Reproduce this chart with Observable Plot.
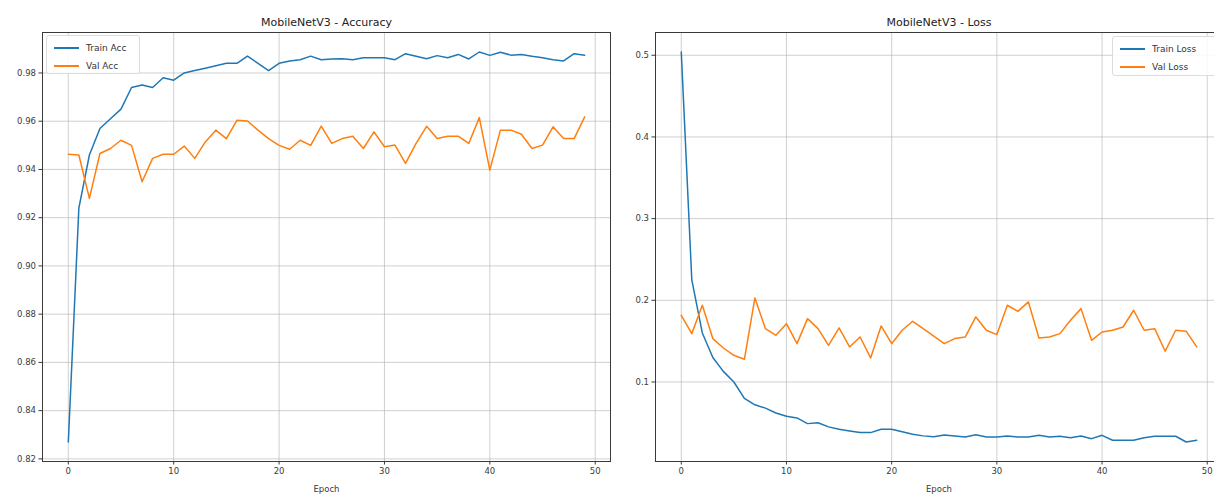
<!DOCTYPE html>
<html>
<head>
<meta charset="utf-8">
<script src="https://cdn.jsdelivr.net/npm/d3@7"></script>
<script src="https://cdn.jsdelivr.net/npm/@observablehq/plot@0.6"></script>
<style>
  html, body { margin: 0; padding: 0; background: #fff; }
  #wrap { position: relative; width: 1214px; height: 496px; overflow: hidden; background: #fff; font-family: "DejaVu Sans", sans-serif; }
  .panel { position: absolute; top: 0; }
  .legend { position: absolute; background: rgba(255,255,255,0.85); border: 1px solid #dcdcdc; border-radius: 3px; box-sizing: border-box; }
  .entry { position: absolute; font-size: 9px; color: #333; white-space: nowrap; line-height: 10px; }
  .swatch { position: absolute; height: 1.6px; }
</style>
</head>
<body>
<div id="wrap"></div>
<script>
// ---- data ----
const epochs = [0,1,2,3,4,5,6,7,8,9,10,11,12,13,14,15,16,17,18,19,20,21,22,23,24,25,26,27,28,29,30,31,32,33,34,35,36,37,38,39,40,41,42,43,44,45,46,47,48,49];

const trainAcc = [0.827,0.924,0.946,0.957,0.961,0.965,0.974,0.975,0.974,0.978,
                  0.977,0.980,0.981,0.982,0.983,0.984,0.984,0.987,0.984,0.981,
                  0.984,0.985,0.9855,0.987,0.9855,0.9858,0.9859,0.9855,0.9863,0.9863,
                  0.9863,0.9855,0.988,0.9869,0.9859,0.9872,0.9863,0.9877,0.9858,0.9887,
                  0.9873,0.9886,0.9874,0.9877,0.9869,0.9863,0.9855,0.985,0.988,0.9874];

const valAcc = [0.9463,0.946,0.928,0.9466,0.9487,0.9521,0.950,0.9349,0.9446,0.9463,
                0.9463,0.9497,0.9446,0.9514,0.9563,0.9528,0.9604,0.9601,0.9563,0.9528,
                0.950,0.9484,0.9521,0.950,0.958,0.9508,0.9528,0.9538,0.9487,0.9556,
                0.9494,0.9501,0.9425,0.9508,0.9579,0.9528,0.9538,0.9538,0.9508,0.9615,
                0.9397,0.9563,0.9563,0.9546,0.9487,0.9501,0.9577,0.9528,0.9528,0.9618];

const trainLoss = [0.504,0.225,0.160,0.130,0.113,0.100,0.080,0.072,0.068,0.062,
                   0.058,0.056,0.049,0.050,0.045,0.042,0.040,0.038,0.038,0.042,
                   0.042,0.039,0.036,0.034,0.033,0.035,0.0339,0.0327,0.0355,0.0327,
                   0.0327,0.0339,0.0327,0.0327,0.0347,0.0327,0.0335,0.0318,0.0339,0.0306,
                   0.0347,0.0286,0.0286,0.0286,0.0318,0.0335,0.0335,0.0335,0.0265,0.0286];

const valLoss = [0.1816,0.1592,0.1939,0.1531,0.1416,0.1327,0.1278,0.2029,0.1653,0.1571,
                 0.1714,0.1469,0.1776,0.1653,0.1449,0.1661,0.1429,0.1551,0.1294,0.1686,
                 0.1469,0.1633,0.1743,0.1653,0.156,0.1469,0.1531,0.1551,0.1796,0.1633,
                 0.158,0.1939,0.1865,0.198,0.1539,0.1551,0.1592,0.1755,0.1898,0.151,
                 0.1612,0.1633,0.1673,0.1878,0.1633,0.1653,0.1376,0.1633,0.162,0.1429];

const xTicks = [0,10,20,30,40,50];
const accTicks = [0.82,0.84,0.86,0.88,0.90,0.92,0.94,0.96,0.98];
const lossTicks = [0.1,0.2,0.3,0.4,0.5];

const titles = ["MobileNetV3 - Accuracy", "MobileNetV3 - Loss"];
const accLabels = ["Train Acc", "Val Acc"];
const lossLabels = ["Train Loss", "Val Loss"];
const colors = ["#1f77b4", "#ff7f0e"];

// ---- helpers ----
function padDomain(arrs) {
  const all = arrs.flat();
  const lo = d3.min(all), hi = d3.max(all), m = (hi - lo) * 0.05;
  return [lo - m, hi + m];
}

function panel({train, val, yTicks, yFormat, title, width, marginLeft}) {
  const rowsT = epochs.map((e, i) => ({epoch: e, v: train[i]}));
  const rowsV = epochs.map((e, i) => ({epoch: e, v: val[i]}));
  return Plot.plot({
    width, height: 496,
    marginLeft, marginRight: 2, marginTop: 32, marginBottom: 35,
    style: {fontFamily: "DejaVu Sans, sans-serif", fontSize: "8.5px", color: "#3a3a3a", background: "transparent", overflow: "visible"},
    x: {domain: [-2.45, 51.45], ticks: xTicks, tickFormat: d => d, tickSize: 3.5, tickPadding: 3,
        label: "Epoch", labelAnchor: "center", labelArrow: "none", labelOffset: 30},
    y: {domain: padDomain([train, val]), ticks: yTicks, tickFormat: yFormat, tickSize: 3.5, tickPadding: 3, label: null},
    marks: [
      Plot.gridX(xTicks, {stroke: "#b0b0b0", strokeOpacity: 0.6, strokeWidth: 1}),
      Plot.gridY(yTicks, {stroke: "#b0b0b0", strokeOpacity: 0.6, strokeWidth: 1}),
      Plot.line(rowsT, {x: "epoch", y: "v", stroke: colors[0], strokeWidth: 1.5}),
      Plot.line(rowsV, {x: "epoch", y: "v", stroke: colors[1], strokeWidth: 1.5}),
      Plot.frame({stroke: "#3a3a3a", strokeWidth: 1}),
      Plot.text([title], {frameAnchor: "top", dy: -14, fontSize: 11, fill: "#222"})
    ]
  });
}

function legend(parent, {left, top, width, height, labels}) {
  const box = document.createElement("div");
  box.className = "legend";
  Object.assign(box.style, {left: left + "px", top: top + "px", width: width + "px", height: height + "px"});
  labels.forEach((lab, i) => {
    const sw = document.createElement("div");
    sw.className = "swatch";
    Object.assign(sw.style, {left: "7px", top: (11 + i * 18) + "px", width: "25px", background: colors[i]});
    const tx = document.createElement("div");
    tx.className = "entry";
    tx.textContent = lab;
    Object.assign(tx.style, {left: "39px", top: (7 + i * 18) + "px"});
    box.appendChild(sw); box.appendChild(tx);
  });
  parent.appendChild(box);
}

// ---- build ----
const wrap = document.getElementById("wrap");

const p1 = panel({train: trainAcc, val: valAcc, yTicks: accTicks, yFormat: d3.format(".2f"),
                  title: titles[0], width: 612, marginLeft: 42});
p1.classList.add("panel"); p1.style.left = "0px";
wrap.appendChild(p1);

const p2 = panel({train: trainLoss, val: valLoss, yTicks: lossTicks, yFormat: d3.format(".1f"),
                  title: titles[1], width: 612, marginLeft: 43});
p2.classList.add("panel"); p2.style.left = "612px";
wrap.appendChild(p2);

legend(wrap, {left: 46, top: 35, width: 94, height: 39, labels: accLabels});
legend(wrap, {left: 1112, top: 36, width: 106, height: 40, labels: lossLabels});
</script>
</body>
</html>
